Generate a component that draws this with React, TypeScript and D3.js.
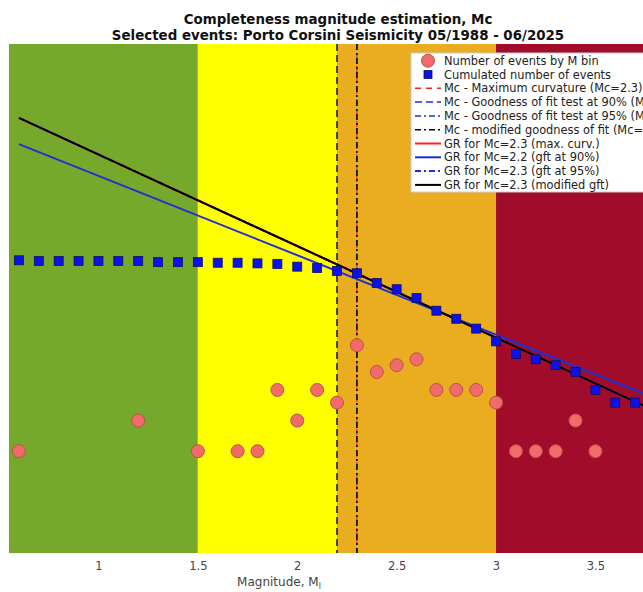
import { useEffect, useRef } from "react";
import * as d3 from "d3";

// magnitude bins (0.1 step)
const magnitudes = [
  0.6, 0.7, 0.8, 0.9, 1.0, 1.1, 1.2, 1.3, 1.4, 1.5, 1.6, 1.7, 1.8, 1.9, 2.0, 2.1,
  2.2, 2.3, 2.4, 2.5, 2.6, 2.7, 2.8, 2.9, 3.0, 3.1, 3.2, 3.3, 3.4, 3.5, 3.6, 3.7,
];
// number of events per bin (0 = nothing drawn on log scale)
const binCounts = [
  1, 0, 0, 0, 0, 0, 2, 0, 0, 1, 0, 1, 1, 4, 2, 4,
  3, 11, 6, 7, 8, 4, 4, 4, 3, 1, 1, 1, 2, 1, 0, 0,
];
// cumulated number of events (N >= M)
const cumCounts = [
  75, 74, 74, 74, 74, 74, 74, 72, 72, 72, 71, 71, 70, 69, 65, 63,
  59, 56, 45, 39, 32, 24, 20, 16, 12, 9, 8, 7, 6, 4, 3, 3,
];

// completeness estimates
const mcLabels = [
  "Mc - Maximum curvature (Mc=2.3)",
  "Mc - Goodness of fit test at 90% (Mc=2.2)",
  "Mc - Goodness of fit test at 95% (Mc=2.3)",
  "Mc - modified goodness of fit (Mc=2.3)",
];
const mcValues = [2.3, 2.2, 2.3, 2.3];

// Gutenberg-Richter fits: log10 N = a - b M
const grLabels = [
  "GR for Mc=2.3 (max. curv.)",
  "GR for Mc=2.2 (gft at 90%)",
  "GR for Mc=2.3 (gft at 95%)",
  "GR for Mc=2.3 (modified gft)",
];
const grA = [3.815, 3.485, 3.815, 3.815];
const grB = [0.9, 0.78, 0.9, 0.9];

// background completeness zones
const zoneEdges = [0.55, 1.5, 2.2, 3.0, 3.85];
const zoneColors = ["#76a82b", "#ffff00", "#e9ad1f", "#a00c29"];

const xTicks = [1, 1.5, 2, 2.5, 3, 3.5];

const lineColors = ["#ff2020", "#2030d0", "#2030d0", "#000000"];
const mcDash = ["6,5", "7,4", "6,3,2,3", "6,3,2,3"];
const mcStroke = ["#e02020", "#202068", "#202068", "#1a1a1a"];
const mcWidth = [1.1, 1.6, 1.2, 1.7];
const grDash = ["", "", "6,3,2,3", ""];

export default function App() {
  const svgRef = useRef<SVGSVGElement | null>(null);

  useEffect(() => {
    if (!svgRef.current) return;
    const svg = d3.select(svgRef.current);
    svg.selectAll("*").remove();

    const W = 643;
    const H = 592;
    const left = 9;
    const top = 44;
    const bottom = 553;
    const right = 665;

    const x = d3.scaleLinear().domain([0.55, 3.85]).range([left, right]);
    const y = d3.scaleLog().domain([0.1, 10000]).range([bottom, top]);

    svg.attr("width", W).attr("height", H).style("font-family", "DejaVu Sans");

    svg
      .append("defs")
      .append("clipPath")
      .attr("id", "plotClip")
      .append("rect")
      .attr("x", left)
      .attr("y", top)
      .attr("width", right - left)
      .attr("height", bottom - top);

    const g = svg.append("g").attr("clip-path", "url(#plotClip)");

    // zones
    zoneColors.forEach((c, i) => {
      g.append("rect")
        .attr("x", x(zoneEdges[i]))
        .attr("y", top)
        .attr("width", x(zoneEdges[i + 1]) - x(zoneEdges[i]))
        .attr("height", bottom - top)
        .attr("fill", c);
    });

    // Mc vertical lines
    mcValues.forEach((m, i) => {
      g.append("line")
        .attr("x1", x(m))
        .attr("x2", x(m))
        .attr("y1", top)
        .attr("y2", bottom)
        .attr("stroke", mcStroke[i])
        .attr("stroke-width", mcWidth[i])
        .attr("stroke-dasharray", mcDash[i]);
    });

    // GR lines
    grA.forEach((a, i) => {
      const pts = [magnitudes[0], 3.85];
      const gen = d3
        .line<number>()
        .x((m) => x(m))
        .y((m) => y(Math.pow(10, a - grB[i] * m)));
      g.append("path")
        .attr("d", gen(pts))
        .attr("fill", "none")
        .attr("stroke", lineColors[i])
        .attr("stroke-width", 2)
        .attr("stroke-dasharray", grDash[i] || null);
    });

    // per-bin circles
    magnitudes.forEach((m, i) => {
      if (binCounts[i] <= 0) return;
      g.append("circle")
        .attr("cx", x(m))
        .attr("cy", y(binCounts[i]))
        .attr("r", 6.5)
        .attr("fill", "#f26a6a")
        .attr("stroke", "#b8564a")
        .attr("stroke-width", 1);
    });

    // cumulated squares
    magnitudes.forEach((m, i) => {
      g.append("rect")
        .attr("x", x(m) - 4.5)
        .attr("y", y(cumCounts[i]) - 4.5)
        .attr("width", 9)
        .attr("height", 9)
        .attr("fill", "#0a12e8")
        .attr("stroke", "#101060")
        .attr("stroke-width", 0.8);
    });

    // x axis
    const axis = d3
      .axisBottom(x)
      .tickValues(xTicks)
      .tickSize(0)
      .tickPadding(9)
      .tickFormat((d) => d3.format("~g")(d as number));
    const ax = svg.append("g").attr("transform", `translate(0,${bottom})`).call(axis);
    ax.select(".domain").remove();
    ax.selectAll("text")
      .attr("fill", "#444")
      .style("font-size", "11.5px")
      .style("font-family", "DejaVu Sans");

    const xl = svg
      .append("text")
      .attr("x", 279)
      .attr("y", 586)
      .attr("text-anchor", "middle")
      .attr("fill", "#444")
      .style("font-size", "12px");
    xl.append("tspan").text("Magnitude, M");
    xl.append("tspan").attr("dy", 3).style("font-size", "8px").text("l");

    // title
    const titleLines = [
      "Completeness magnitude estimation, Mc",
      "Selected events: Porto Corsini Seismicity 05/1988 - 06/2025",
    ];
    titleLines.forEach((t, i) => {
      svg
        .append("text")
        .attr("x", 338)
        .attr("y", 24 + i * 16)
        .attr("text-anchor", "middle")
        .attr("fill", "#111")
        .style("font-size", "13.4px")
        .style("font-weight", "bold")
        .text(t);
    });

    // legend
    const lg = svg.append("g").attr("transform", "translate(411,53)");
    lg.append("rect")
      .attr("width", 300)
      .attr("height", 139)
      .attr("fill", "#fff")
      .attr("stroke", "#ccc")
      .attr("stroke-width", 1);
    const rowH = 13.8;
    const row0 = 7.7;
    const items = [
      { label: "Number of events by M bin", kind: "circle" },
      { label: "Cumulated number of events", kind: "square" },
      ...mcLabels.map((l, i) => ({ label: l, kind: "mc", i })),
      ...grLabels.map((l, i) => ({ label: l, kind: "gr", i })),
    ] as { label: string; kind: string; i?: number }[];
    items.forEach((it, k) => {
      const cy = row0 + k * rowH;
      if (it.kind === "circle") {
        lg.append("circle")
          .attr("cx", 17)
          .attr("cy", cy)
          .attr("r", 6.5)
          .attr("fill", "#f26a6a")
          .attr("stroke", "#b8564a");
      } else if (it.kind === "square") {
        lg.append("rect")
          .attr("x", 13)
          .attr("y", cy - 4)
          .attr("width", 8)
          .attr("height", 8)
          .attr("fill", "#0a12e8")
          .attr("stroke", "#101060")
          .attr("stroke-width", 0.8);
      } else {
        const i = it.i as number;
        const isMc = it.kind === "mc";
        lg.append("line")
          .attr("x1", 4)
          .attr("x2", 30)
          .attr("y1", cy)
          .attr("y2", cy)
          .attr("stroke", lineColors[i])
          .attr("stroke-width", isMc ? 1.5 : 2)
          .attr("stroke-dasharray", isMc ? mcDash[i] : grDash[i] || null);
      }
      lg.append("text")
        .attr("x", 33)
        .attr("y", cy + 4)
        .attr("fill", "#222")
        .style("font-size", "11.4px")
        .text(it.label);
    });
  }, []);

  return (
    <div style={{ position: "fixed", left: 0, top: 0, width: 643, height: 592, background: "#fff" }}>
      <svg ref={svgRef} />
    </div>
  );
}
